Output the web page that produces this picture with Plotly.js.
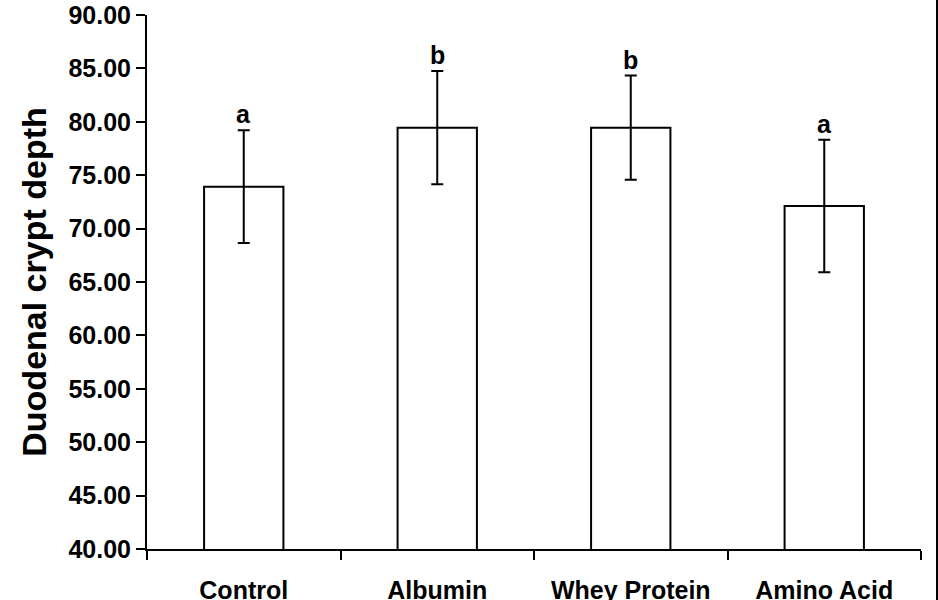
<!DOCTYPE html>
<html>
<head>
<meta charset="utf-8">
<script src="https://cdn.plot.ly/plotly-3.0.1.min.js"></script>
<style>html,body{margin:0;padding:0;background:#fff;}#chart{width:938px;height:600px;}</style>
</head>
<body>
<div id="chart"></div>
<script>
var categories = ['Control', 'Albumin', 'Whey Protein', 'Amino Acid'];
var means = [73.93, 79.45, 79.45, 72.12];
var errors = [5.28, 5.3, 4.88, 6.2];
var letters = ['a', 'b', 'b', 'a'];
var yTickVals = [40, 45, 50, 55, 60, 65, 70, 75, 80, 85, 90];

var FONT = 'Liberation Sans, Arial, sans-serif';

var trace = {
  type: 'bar',
  x: categories,
  y: means,
  marker: {color: '#ffffff', line: {color: '#000000', width: 2}},
  error_y: {type: 'data', array: errors, visible: true, color: '#000000', thickness: 2, width: 6},
  hoverinfo: 'none'
};

var annotations = categories.map(function (c, i) {
  return {
    x: c, y: means[i] + errors[i], xref: 'x', yref: 'y',
    text: '<b>' + letters[i] + '</b>', showarrow: false,
    yanchor: 'bottom', yshift: 0,
    font: {family: FONT, size: 25, color: '#000'}
  };
});

var layout = {
  width: 938, height: 600,
  margin: {l: 147, r: 17, t: 15, b: 51},
  paper_bgcolor: '#ffffff', plot_bgcolor: '#ffffff',
  showlegend: false,
  bargap: 0.59,
  font: {family: FONT, color: '#000'},
  xaxis: {
    type: 'category',
    showline: true, linecolor: '#000', linewidth: 2,
    ticks: 'outside', tickson: 'boundaries', ticklen: 9, tickwidth: 2, tickcolor: '#000',
    tickfont: {family: FONT, size: 25, color: '#000', weight: 'bold'},
    ticklabelstandoff: 18,
    showgrid: false, zeroline: false, automargin: false
  },
  yaxis: {
    range: [40, 90],
    tickvals: yTickVals,
    tickformat: '.2f',
    showline: true, linecolor: '#000', linewidth: 2,
    ticks: 'outside', ticklen: 9, tickwidth: 2, tickcolor: '#000',
    tickfont: {family: FONT, size: 25, color: '#000', weight: 'bold'},
    title: {text: '<b>Duodenal crypt depth</b>', font: {family: FONT, size: 34, color: '#000'}, standoff: 12},
    showgrid: false, zeroline: false, automargin: false
  },
  annotations: annotations,
  shapes: [{
    type: 'line', xref: 'paper', yref: 'paper',
    x0: 1.0207, x1: 1.0207, y0: -0.1, y1: 1.03,
    line: {color: '#000', width: 2}
  }]
};

Plotly.newPlot('chart', [trace], layout, {displayModeBar: false, staticPlot: true});
</script>
</body>
</html>
